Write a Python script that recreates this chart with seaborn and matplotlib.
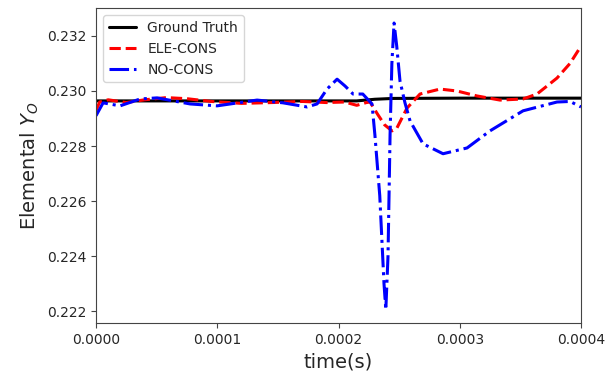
import matplotlib
matplotlib.use("Agg")
import matplotlib.pyplot as plt
import seaborn as sns
from matplotlib.ticker import FormatStrFormatter

# tiempos en unidades de 1e-4 s
t_gt = [0.0, 1.0, 2.15, 2.30, 2.45, 3.0, 4.0]
y_gt = [0.22964, 0.22964, 0.22964, 0.22970, 0.22973, 0.22974, 0.22974]

t_ele = [0.0, 0.03, 0.1, 0.25, 0.4, 0.58, 0.75, 0.95, 1.2, 1.45, 1.7, 1.9, 2.05,
         2.15, 2.23, 2.26, 2.32, 2.38, 2.441, 2.482, 2.565, 2.672, 2.837, 2.977,
         3.142, 3.332, 3.522, 3.637, 3.802, 3.909, 4.0]
y_ele = [0.2293, 0.2296, 0.22968, 0.22958, 0.22968, 0.22976, 0.22972, 0.22962,
         0.22955, 0.22958, 0.22962, 0.22958, 0.22960, 0.22948, 0.22958, 0.22960,
         0.22917, 0.22877, 0.22855, 0.22866, 0.22938, 0.22989, 0.23007, 0.23000,
         0.22982, 0.22967, 0.22971, 0.22989, 0.23047, 0.2310, 0.23163]

t_no = [0.0, 0.008, 0.058, 0.198, 0.363, 0.503, 0.775, 0.998, 1.328, 1.542,
        1.74, 1.823, 1.905, 1.988, 2.054, 2.12, 2.20, 2.276, 2.30, 2.34, 2.375,
        2.39, 2.408, 2.425, 2.44, 2.458, 2.48, 2.507, 2.548, 2.59, 2.697, 2.862,
        3.06, 3.249, 3.522, 3.802, 3.91, 4.0]
y_no = [0.2291, 0.22917, 0.22957, 0.22946, 0.22971, 0.22975, 0.22953, 0.22946,
        0.22967, 0.22957, 0.22942, 0.22953, 0.23007, 0.23043, 0.23018, 0.22989,
        0.22989, 0.22953, 0.2284, 0.2262, 0.2230, 0.22205, 0.2240, 0.2284,
        0.2310, 0.23247, 0.23163, 0.23036, 0.22957, 0.22891, 0.22808, 0.22772,
        0.22793, 0.22855, 0.22928, 0.2296, 0.22962, 0.22942]

sns.set_style("ticks")
fig, ax = plt.subplots(figsize=(6.08, 3.71), dpi=100)
fig.subplots_adjust(left=0.158, right=0.9556, top=0.978, bottom=0.1294)

sns.lineplot(x=[t * 1e-4 for t in t_gt], y=y_gt, color="black", lw=2.2,
             label="Ground Truth", ax=ax)
sns.lineplot(x=[t * 1e-4 for t in t_ele], y=y_ele, color="red", lw=2.2,
             linestyle="--", label="ELE-CONS", ax=ax)
sns.lineplot(x=[t * 1e-4 for t in t_no], y=y_no, color="blue", lw=2.2,
             linestyle="-.", label="NO-CONS", ax=ax)

ax.set_xlim(0, 0.0004)
ax.set_ylim(0.22157, 0.23301)
ax.set_xticks([0, 0.0001, 0.0002, 0.0003, 0.0004])
ax.set_yticks([0.222, 0.224, 0.226, 0.228, 0.230, 0.232])
ax.xaxis.set_major_formatter(FormatStrFormatter('%.4f'))
ax.yaxis.set_major_formatter(FormatStrFormatter('%.3f'))
ax.tick_params(labelsize=10, color="#444444")
for s in ax.spines.values():
    s.set_color("#444444")
ax.set_xlabel("time(s)", fontsize=14)
ax.set_ylabel("Elemental $Y_O$", fontsize=14)
ax.legend(loc="upper left", fontsize=10)

plt.savefig("out.png", dpi=100)
